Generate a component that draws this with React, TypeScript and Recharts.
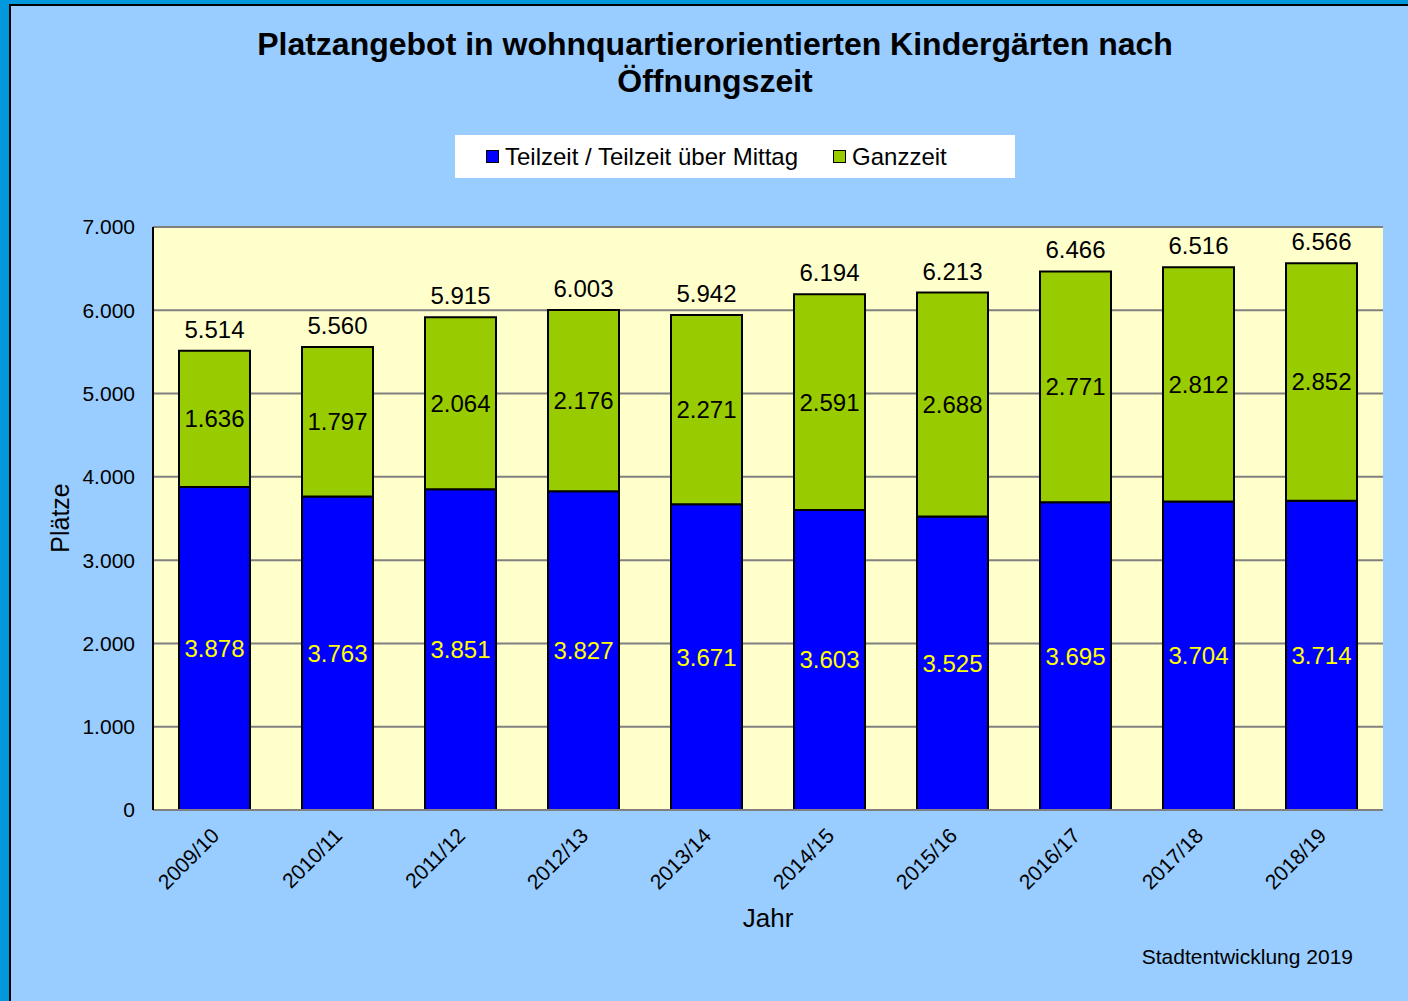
import React from "react"
import {
  BarChart,
  Bar,
  XAxis,
  YAxis,
  CartesianGrid,
  LabelList,
} from "recharts"

const years = [
  "2009/10", "2010/11", "2011/12", "2012/13", "2013/14",
  "2014/15", "2015/16", "2016/17", "2017/18", "2018/19",
]
const teilzeit = [3878, 3763, 3851, 3827, 3671, 3603, 3525, 3695, 3704, 3714]
const ganzzeit = [1636, 1797, 2064, 2176, 2271, 2591, 2688, 2771, 2812, 2852]
const yTicks = [0, 1000, 2000, 3000, 4000, 5000, 6000, 7000]

const series = [
  { key: "teilzeit", name: "Teilzeit / Teilzeit über Mittag", color: "#0000FF" },
  { key: "ganzzeit", name: "Ganzzeit", color: "#99CC00" },
]

const data = years.map((year, i) => ({
  year,
  teilzeit: teilzeit[i],
  ganzzeit: ganzzeit[i],
  total: teilzeit[i] + ganzzeit[i],
}))

// German thousands separator
const fmt = (v: any) => String(v).replace(/\B(?=(\d{3})+(?!\d))/g, ".")

const FONT = '"Liberation Sans", Arial, Helvetica, sans-serif'

const YearTick = (props: any) => {
  const { x, y, payload } = props
  return (
    <g transform={`translate(${x + 6},${y + 27})`}>
      <text x={0} y={0} textAnchor="end" transform="rotate(-45)" fontSize={21} fill="#000" fontFamily={FONT}>
        {payload.value}
      </text>
    </g>
  )
}

function LegendBox() {
  return (
    <div
      style={{
        position: "absolute",
        left: 455,
        top: 135,
        background: "#fff",
        width: 560,
        height: 43,
        display: "flex",
        alignItems: "center",
        paddingLeft: 31,
        boxSizing: "border-box",
        fontFamily: FONT,
        fontSize: 24,
        color: "#000",
      }}
    >
      {series.map((s, i) => (
        <div key={s.key} style={{ display: "flex", alignItems: "center", marginRight: i === 0 ? 35 : 0 }}>
          <span
            style={{
              display: "inline-block",
              width: 11,
              height: 11,
              background: s.color,
              border: "1px solid #000",
              marginRight: 6,
            }}
          />
          <span>{s.name}</span>
        </div>
      ))}
    </div>
  )
}

export default function App() {
  return (
    <div style={{ position: "absolute", left: 0, top: 0, width: 1408, height: 1001, background: "#0099DD", overflow: "hidden" }}>
      <div
        style={{
          position: "absolute",
          left: 9,
          top: 4,
          width: 1408,
          height: 1001,
          background: "#99CCFF",
          borderLeft: "2px solid #000",
          borderTop: "2px solid #000",
        }}
      />
      <div
        style={{
          position: "absolute",
          left: 215,
          top: 26,
          width: 1000,
          textAlign: "center",
          fontFamily: FONT,
          fontWeight: "bold",
          fontSize: 32,
          lineHeight: "37px",
          color: "#000",
        }}
      >
        Platzangebot in wohnquartierorientierten Kindergärten nach
        <br />
        Öffnungszeit
      </div>

      <LegendBox />

      <div style={{ position: "absolute", left: 0, top: 0 }}>
        <BarChart
          width={1408}
          height={1001}
          data={data}
          margin={{ top: 227, right: 25, bottom: 0, left: 0 }}
          style={{ fontFamily: FONT }}
        >
          <CartesianGrid vertical={false} stroke="#808080" strokeWidth={2} fill="#FFFFCC" fillOpacity={1} />
          <Bar dataKey="teilzeit" name={series[0].name} stackId="a" fill={series[0].color} stroke="#000" strokeWidth={2} barSize={71} isAnimationActive={false}>
            <LabelList dataKey="teilzeit" position="center" fill="#FFFF00" fontSize={24} formatter={fmt} />
          </Bar>
          <Bar dataKey="ganzzeit" name={series[1].name} stackId="a" fill={series[1].color} stroke="#000" strokeWidth={2} barSize={71} isAnimationActive={false}>
            <LabelList dataKey="ganzzeit" position="center" fill="#000" fontSize={24} formatter={fmt} />
            <LabelList dataKey="total" position="top" offset={13} fill="#000" fontSize={24} formatter={fmt} />
          </Bar>
          <XAxis
            dataKey="year"
            height={191}
            tickLine={false}
            tickSize={0}
            tickMargin={0}
            axisLine={{ stroke: "#808080", strokeWidth: 2 }}
            tick={<YearTick />}
            interval={0}
          />
          <XAxis xAxisId="top" dataKey="year" orientation="top" height={0} tick={false} tickLine={false} axisLine={{ stroke: "#000", strokeWidth: 2 }} />
          <YAxis
            domain={[0, 7000]}
            ticks={yTicks}
            width={153}
            tickLine={false}
            tickSize={0}
            tickMargin={18}
            tickFormatter={fmt}
            tick={{ fontSize: 21, fill: "#000" }}
            axisLine={{ stroke: "#000", strokeWidth: 2 }}
          />
          <YAxis yAxisId="right" orientation="right" width={0} domain={[0, 7000]} tick={false} tickLine={false} axisLine={{ stroke: "#000", strokeWidth: 2 }} />
        </BarChart>
      </div>

      <div
        style={{
          position: "absolute",
          left: 60,
          top: 518,
          transform: "translate(-50%, -50%) rotate(-90deg)",
          fontFamily: FONT,
          fontSize: 25,
          color: "#000",
          whiteSpace: "nowrap",
        }}
      >
        Plätze
      </div>
      <div
        style={{
          position: "absolute",
          left: 768,
          top: 918,
          transform: "translate(-50%, -50%)",
          fontFamily: FONT,
          fontSize: 26,
          color: "#000",
        }}
      >
        Jahr
      </div>
      <div
        style={{
          position: "absolute",
          right: 1408 - 1353,
          top: 957,
          transform: "translateY(-50%)",
          fontFamily: FONT,
          fontSize: 21,
          color: "#000",
          whiteSpace: "nowrap",
        }}
      >
        Stadtentwicklung 2019
      </div>
    </div>
  )
}
